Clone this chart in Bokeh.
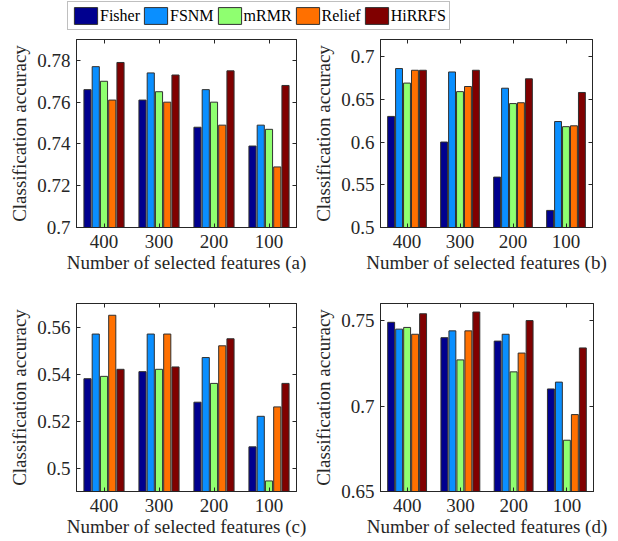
from bokeh.plotting import figure
from bokeh.models import (Range1d, FactorRange, FixedTicker, LinearAxis, CategoricalAxis,
                          Legend, LegendItem, ColumnDataSource, CustomJSTickFormatter)
from bokeh.transform import dodge
from bokeh.layouts import column, row
from bokeh.embed import file_html
from bokeh.resources import INLINE

# ---------------- data ----------------
categories = ["400", "300", "200", "100"]
methods = ["Fisher", "FSNM", "mRMR", "Relief", "HiRRFS"]
colors = ["#00008F", "#0A8FFF", "#8FFF70", "#FF7000", "#800000"]

acc_a = {
    "Fisher": [0.766, 0.761, 0.748, 0.739],
    "FSNM":   [0.777, 0.774, 0.766, 0.749],
    "mRMR":   [0.770, 0.765, 0.760, 0.747],
    "Relief": [0.761, 0.760, 0.749, 0.729],
    "HiRRFS": [0.779, 0.773, 0.775, 0.768],
}
acc_b = {
    "Fisher": [0.630, 0.600, 0.559, 0.520],
    "FSNM":   [0.686, 0.682, 0.663, 0.624],
    "mRMR":   [0.669, 0.659, 0.645, 0.618],
    "Relief": [0.684, 0.665, 0.646, 0.619],
    "HiRRFS": [0.684, 0.684, 0.674, 0.658],
}
acc_c = {
    "Fisher": [0.538, 0.541, 0.528, 0.509],
    "FSNM":   [0.557, 0.557, 0.547, 0.522],
    "mRMR":   [0.539, 0.542, 0.536, 0.4945],
    "Relief": [0.565, 0.557, 0.552, 0.526],
    "HiRRFS": [0.542, 0.543, 0.555, 0.536],
}
acc_d = {
    "Fisher": [0.749, 0.740, 0.738, 0.710],
    "FSNM":   [0.745, 0.744, 0.742, 0.714],
    "mRMR":   [0.746, 0.727, 0.720, 0.680],
    "Relief": [0.742, 0.744, 0.731, 0.695],
    "HiRRFS": [0.754, 0.755, 0.750, 0.734],
}

ylims = {"a": (0.70, 0.79), "b": (0.50, 0.72), "c": (0.49, 0.57), "d": (0.65, 0.76)}
yticks = {
    "a": [0.70, 0.72, 0.74, 0.76, 0.78],
    "b": [0.50, 0.55, 0.60, 0.65, 0.70],
    "c": [0.50, 0.52, 0.54, 0.56],
    "d": [0.65, 0.70, 0.75],
}
ytick_labels = {
    "a": ["0.7", "0.72", "0.74", "0.76", "0.78"],
    "b": ["0.5", "0.55", "0.6", "0.65", "0.7"],
    "c": ["0.5", "0.52", "0.54", "0.56"],
    "d": ["0.65", "0.7", "0.75"],
}
xlabel = "Number of selected features ({})"
ylabel = "Classification accuracy"

FONT = "'Liberation Serif', serif"
AX = "#262626"
offsets = [-0.3, -0.15, 0.0, 0.15, 0.3]
BAR_W = 0.13


def style_axis(ax, size="19px"):
    ax.major_label_text_font = FONT
    ax.major_label_text_font_size = size
    ax.major_label_text_color = AX
    ax.axis_label_text_font = FONT
    ax.axis_label_text_font_size = size
    ax.axis_label_text_font_style = "normal"
    ax.axis_label_text_color = AX
    ax.axis_line_color = AX
    ax.major_tick_line_color = AX
    ax.major_tick_in = 4
    ax.major_tick_out = 0
    ax.minor_tick_line_color = None


def panel(key, data, width, height, bl, br, bt, bb):
    p = figure(width=width, height=height, x_range=FactorRange(*categories),
               y_range=Range1d(*ylims[key]), output_backend="svg", toolbar_location=None,
               min_border_left=bl, min_border_right=br, min_border_top=bt, min_border_bottom=bb)
    p.xgrid.visible = False
    p.ygrid.visible = False
    p.outline_line_color = AX
    p.outline_line_width = 1
    src = ColumnDataSource(dict(cat=categories, **data))
    for m, c, off in zip(methods, colors, offsets):
        p.vbar(x=dodge("cat", off, range=p.x_range), top=m, bottom=ylims[key][0], width=BAR_W,
               source=src, fill_color=c, line_color="#303030", line_width=1)
    # left axis
    ya = p.yaxis[0]
    ya.ticker = FixedTicker(ticks=yticks[key])
    ya.major_label_overrides = {t: l for t, l in zip(yticks[key], ytick_labels[key])}
    ya.axis_label = ylabel
    style_axis(ya)
    ya.major_label_standoff = 6
    ya.axis_label_standoff = 4
    # bottom axis
    xa = p.xaxis[0]
    xa.axis_label = xlabel.format(key)
    style_axis(xa)
    xa.major_label_standoff = 7
    xa.axis_label_standoff = 1
    # right / top ticks (MATLAB box)
    blank = CustomJSTickFormatter(code="return ''")
    ra = LinearAxis(ticker=FixedTicker(ticks=yticks[key]), formatter=blank)
    style_axis(ra)
    ra.major_label_standoff = 0
    p.add_layout(ra, "right")
    ta = CategoricalAxis(formatter=CustomJSTickFormatter(code="return ''"))
    style_axis(ta)
    ta.major_label_standoff = 0
    p.add_layout(ta, "above")
    return p


pa = panel("a", acc_a, 310, 246, 76, 14, 5, 53)
pb = panel("b", acc_b, 308, 246, 63, 26, 5, 53)
pc = panel("c", acc_c, 310, 261, 76, 14, 23, 50)
pd = panel("d", acc_d, 308, 261, 62, 25, 23, 50)

# legend strip (proxy bars lie outside the visible range; only the legend shows)
lf = figure(width=618, height=34, x_range=Range1d(0, 1), y_range=Range1d(0, 1),
            output_backend="svg", toolbar_location=None,
            min_border_left=0, min_border_right=0, min_border_top=0, min_border_bottom=0)
lf.axis.visible = False
lf.grid.visible = False
lf.outline_line_color = None
items = []
for m, c in zip(methods, colors):
    r = lf.vbar(x=[5], top=[5], bottom=[4], width=0.1, fill_color=c,
                line_color="#303030", line_width=1)
    items.append(LegendItem(label=m, renderers=[r]))
leg = Legend(items=items, orientation="horizontal", location=(67, 4),
             glyph_width=29, glyph_height=21, label_standoff=0, spacing=1, padding=3, margin=0,
             label_text_font=FONT, label_text_font_size="16px", label_text_color="#000000",
             border_line_color="#7f7f7f", border_line_width=1.5, background_fill_alpha=1)
lf.add_layout(leg, "center")

layout = column(lf, row(pa, pb), row(pc, pd))
open("out.html", "w").write(file_html(layout, INLINE))
